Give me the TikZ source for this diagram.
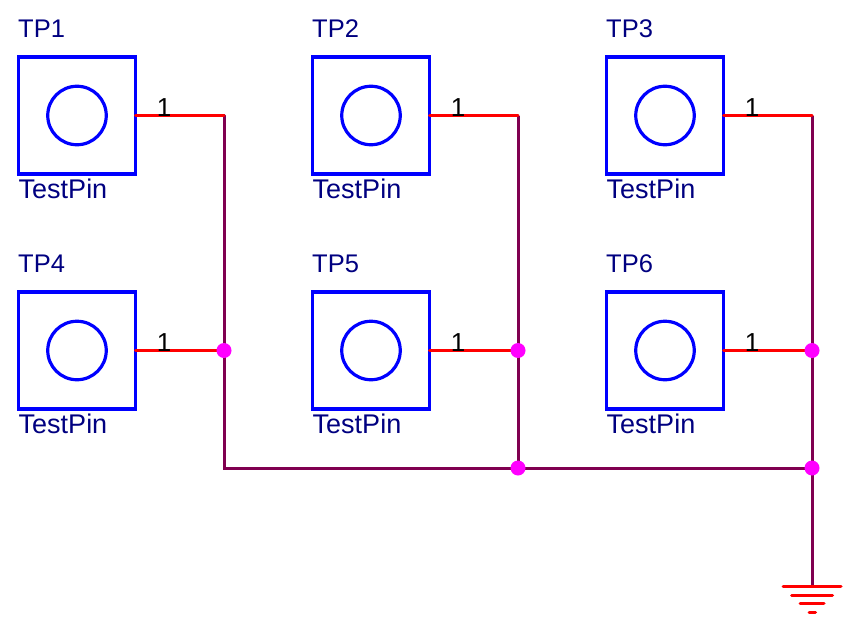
\documentclass[tikz,border=0pt]{standalone}
\usepackage{fontspec}
\setmainfont{Liberation Sans}
\definecolor{symblue}{RGB}{0,0,255}
\definecolor{textnavy}{RGB}{0,0,128}
\definecolor{netred}{RGB}{255,0,0}
\definecolor{wirepurple}{RGB}{128,0,80}
\definecolor{junc}{RGB}{255,0,255}
\tikzset{
  pinbox/.style={draw=symblue,line width=3.5pt,minimum width=117pt,minimum height=117pt,inner sep=0pt,outer sep=0pt,rectangle},
  pinhole/.style={draw=symblue,line width=3.2pt,circle,minimum size=58.5pt,inner sep=0pt},
  reflabel/.style={text=textnavy,font=\fontsize{25.5}{26}\selectfont,anchor=base west,inner sep=0pt},
  vallabel/.style={text=textnavy,font=\fontsize{27}{27}\selectfont,anchor=base west,inner sep=0pt},
  pinnum/.style={text=black,font=\fontsize{26}{26}\selectfont,anchor=base,inner sep=0pt},
  pinwire/.style={draw=netred,line width=3pt},
  netwire/.style={draw=wirepurple,line width=3pt},
  gndbar/.style={draw=netred,line width=3pt,line cap=round},
  dot/.style={circle,fill=junc,minimum size=15pt,inner sep=0pt}
}
\begin{document}
\begin{tikzpicture}[x=1pt,y=-1pt]
\useasboundingbox (0,0) rectangle (855,621);
% test pins
\foreach \n/\xc/\yc/\bx in {1/77/115.5/224,2/371/115.5/518,3/665/115.5/812,4/77/350.5/224,5/371/350.5/518,6/665/350.5/812}{
  \node[pinbox] (box\n) at (\xc,\yc) {};
  \node[pinhole] (hole\n) at (\xc,\yc) {};
  \node[reflabel] (ref\n) at (\xc-59,\yc-78) {TP\n};
  \node[vallabel] (val\n) at (\xc-58.5,\yc+83) {TestPin};
  \coordinate (end\n) at (\bx,\yc);
}
% net wires
\coordinate (cornerA) at (224,468);
\coordinate (busB) at (518,468);
\coordinate (busC) at (812,468);
\coordinate (gnd) at (812,586);
\draw[netwire,line cap=round] (end1) -- (end4) -- (cornerA) -- (busB) -- (busC);
\draw[netwire] (end2) -- (end5) -- (busB);
\draw[netwire] (end3) -- (end6) -- (busC) -- (gnd);
\foreach \n in {1,2,3,4,5,6}{
  \draw[pinwire,line cap=round] (box\n.east) -- (end\n);
}
\foreach \n/\xc/\yc in {1/77/115.5,2/371/115.5,3/665/115.5,4/77/350.5,5/371/350.5,6/665/350.5}{
  \node[pinnum] (num\n) at (\xc+87,\yc+0.5) {1};
}
\node[dot] (j4) at (end4) {};
\node[dot] (j5) at (end5) {};
\node[dot] (j6) at (end6) {};
\node[dot] (jb) at (busB) {};
\node[dot] (jc) at (busC) {};
% ground symbol
\coordinate (g1a) at (783,586); \coordinate (g1b) at (841,586);
\coordinate (g2a) at (791.5,595); \coordinate (g2b) at (832.5,595);
\coordinate (g3a) at (800,603.5); \coordinate (g3b) at (824,603.5);
\coordinate (g4a) at (809,612.5); \coordinate (g4b) at (815.5,612.5);
\draw[gndbar] (g1a) -- (g1b);
\draw[gndbar] (g2a) -- (g2b);
\draw[gndbar] (g3a) -- (g3b);
\draw[gndbar] (g4a) -- (g4b);
\end{tikzpicture}
\end{document}
